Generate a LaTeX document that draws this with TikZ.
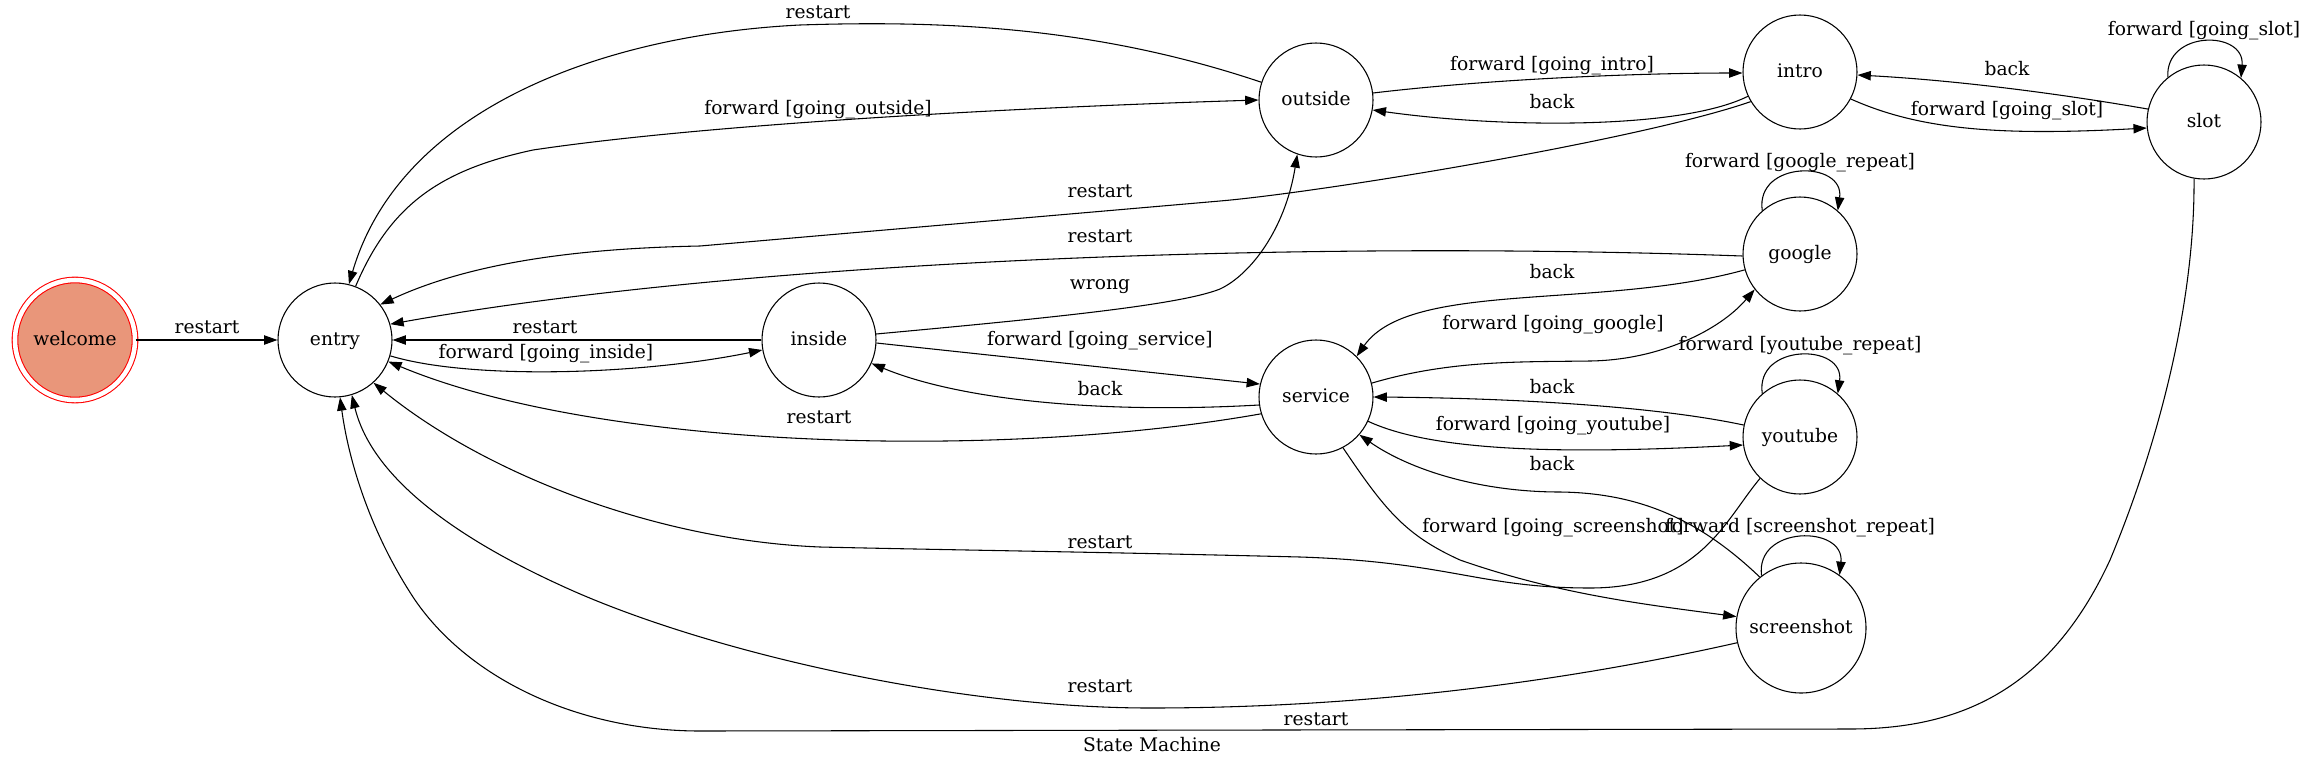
\documentclass[tikz,border=0pt]{standalone}
\usepackage{fontspec}
\setmainfont{DejaVu Serif}
\usepackage{xcolor}
\usetikzlibrary{arrows.meta}
\definecolor{salmonfill}{HTML}{E9967A}

\begin{document}
\begin{tikzpicture}[
    x=0.75pt, y=-0.75pt,
    font=\fontsize{14}{17}\selectfont,
    state/.style={circle, draw, line width=0.8pt, minimum size=85.5pt, inner sep=0pt, text height=10.5pt, text depth=2.5pt},
    startstate/.style={state, draw=red, fill=salmonfill, double=white, double distance=3.4pt, minimum size=90pt},
    line/.style={draw, line width=0.8pt, -{Triangle[length=10pt, width=7pt]}},
    lbl/.style={inner sep=0pt, text height=10.5pt, text depth=2.5pt}
]
\useasboundingbox (0,0) rectangle (2306,768);

% States
\node [startstate] (welcome) at (75,340) {welcome};
\node [state] (entry) at (335,340) {entry};
\node [state] (inside) at (819,340) {inside};
\node [state] (outside) at (1316,100) {outside};
\node [state] (service) at (1316,397) {service};
\node [state] (intro) at (1800,72) {intro};
\node [state] (google) at (1800,254) {google};
\node [state] (youtube) at (1800,437) {youtube};
\node [state, minimum size=97.5pt] (screenshot) at (1801,628) {screenshot};
\node [state] (slot) at (2204,122) {slot};

% Title
\node [lbl] (title) at (1152,746) {State Machine};

% Connections - entry and inside
\path [line] (welcome) -- (entry) node [lbl] at (207,328) {restart};
\path [line] (inside) -- (entry) node [lbl] at (545,328) {restart};
\path [line] (entry.-16) .. controls (470,380) and (640,375) .. (inside.190) node [lbl] at (546,353) {forward [going\_inside]};
\path [line] (inside.-3) -- (service.167) node [lbl] at (1100,340) {forward [going\_service]};
\path [line] (service.188) .. controls (1100,414) and (960,400) .. (inside.-24) node [lbl] at (1100,390) {back};
\path [line] (inside.6) .. controls (1050,318) and (1180,305) .. (1220,289) .. controls (1250,275) and (1285,230) .. (outside.-109) node [lbl] at (1100,284) {wrong};
\path [line] (service.197) .. controls (1000,460) and (600,450) .. (entry.-22) node [lbl] at (819,418) {restart};

% Connections - outside and intro
\path [line] (entry.69) .. controls (390,205) and (440,170) .. (533,150) .. controls (700,125) and (1000,108) .. (outside.180) node [lbl] at (818,109) {forward [going\_outside]};
\path [line] (outside.162) .. controls (1100,28) and (950,20) .. (800,25) .. controls (600,35) and (400,110) .. (entry.76) node [lbl] at (818,13) {restart};
\path [line] (outside.7) .. controls (1500,78) and (1650,73) .. (intro.181) node [lbl] at (1552,65) {forward [going\_intro]};
\path [line] (intro.205) .. controls (1680,130) and (1500,128) .. (outside.-10) node [lbl] at (1552,103) {back};
\path [line] (intro.211) .. controls (1640,140) and (1324,192) .. (1220,201) -- (700,246) .. controls (600,248) and (480,258) .. (entry.38) node [lbl] at (1100,192) {restart};

% Connections - slot
\path [line] (intro.-28) .. controls (1920,130) and (2000,136) .. (slot.186) node [lbl] at (2007,110) {forward [going\_slot]};
\path [line] (slot.167) .. controls (2050,92) and (1950,80) .. (intro.-3) node [lbl] at (2007,70) {back};
\path [line] (slot.129) .. controls (2165,30) and (2245,30) .. (slot.50) node [lbl] at (2204,30) {forward [going\_slot]};
\path [line] (slot.-100) .. controls (2195,300) and (2160,440) .. (2110,560) .. controls (2050,690) and (1960,729) .. (1850,729) -- (700,731) .. controls (580,731) and (470,680) .. (415,600) .. controls (375,540) and (350,470) .. (entry.-85) node [lbl] at (1316,720) {restart};

% Connections - google
\path [line] (google.131) .. controls (1755,160) and (1845,160) .. (google.49) node [lbl] at (1800,162) {forward [google\_repeat]};
\path [line] (google.182) .. controls (1300,240) and (750,260) .. (entry.16) node [lbl] at (1100,237) {restart};
\path [line] (google.196) .. controls (1600,310) and (1410,280) .. (service.45) node [lbl] at (1552,273) {back};
\path [line] (service.14) .. controls (1450,360) and (1520,362) .. (1590,361) .. controls (1660,360) and (1720,330) .. (google.218) node [lbl] at (1553,324) {forward [going\_google]};

% Connections - youtube
\path [line] (youtube.131) .. controls (1755,343) and (1845,343) .. (youtube.49) node [lbl] at (1800,345) {forward [youtube\_repeat]};
\path [line] (youtube.168) .. controls (1650,405) and (1500,398) .. (service.0) node [lbl] at (1552,388) {back};
\path [line] (service.-25) .. controls (1430,450) and (1550,455) .. (youtube.188) node [lbl] at (1553,425) {forward [going\_youtube]};
\path [line] (youtube.226) .. controls (1725,520) and (1700,588) .. (1590,588) .. controls (1480,588) and (1450,562) .. (1300,557) .. controls (1100,552) and (950,550) .. (820,547) .. controls (650,540) and (480,470) .. (entry.-48) node [lbl] at (1100,543) {restart};

% Connections - screenshot
\path [line] (screenshot.129) .. controls (1700,520) and (1640,493) .. (1560,492) .. controls (1480,492) and (1410,470) .. (service.-41) node [lbl] at (1552,465) {back};
\path [line] (service.-62) .. controls (1385,510) and (1405,535) .. (1460,560) .. controls (1560,595) and (1650,605) .. (screenshot.170) node [lbl] at (1553,527) {forward [going\_screenshot]};
\path [line] (screenshot.127) .. controls (1755,525) and (1845,525) .. (screenshot.54) node [lbl] at (1800,527) {forward [screenshot\_repeat]};
\path [line] (screenshot.193) .. controls (1550,685) and (1350,708) .. (1150,708) .. controls (950,708) and (700,650) .. (560,585) .. controls (440,530) and (370,470) .. (entry.-73) node [lbl] at (1100,687) {restart};

\end{tikzpicture}
\end{document}
